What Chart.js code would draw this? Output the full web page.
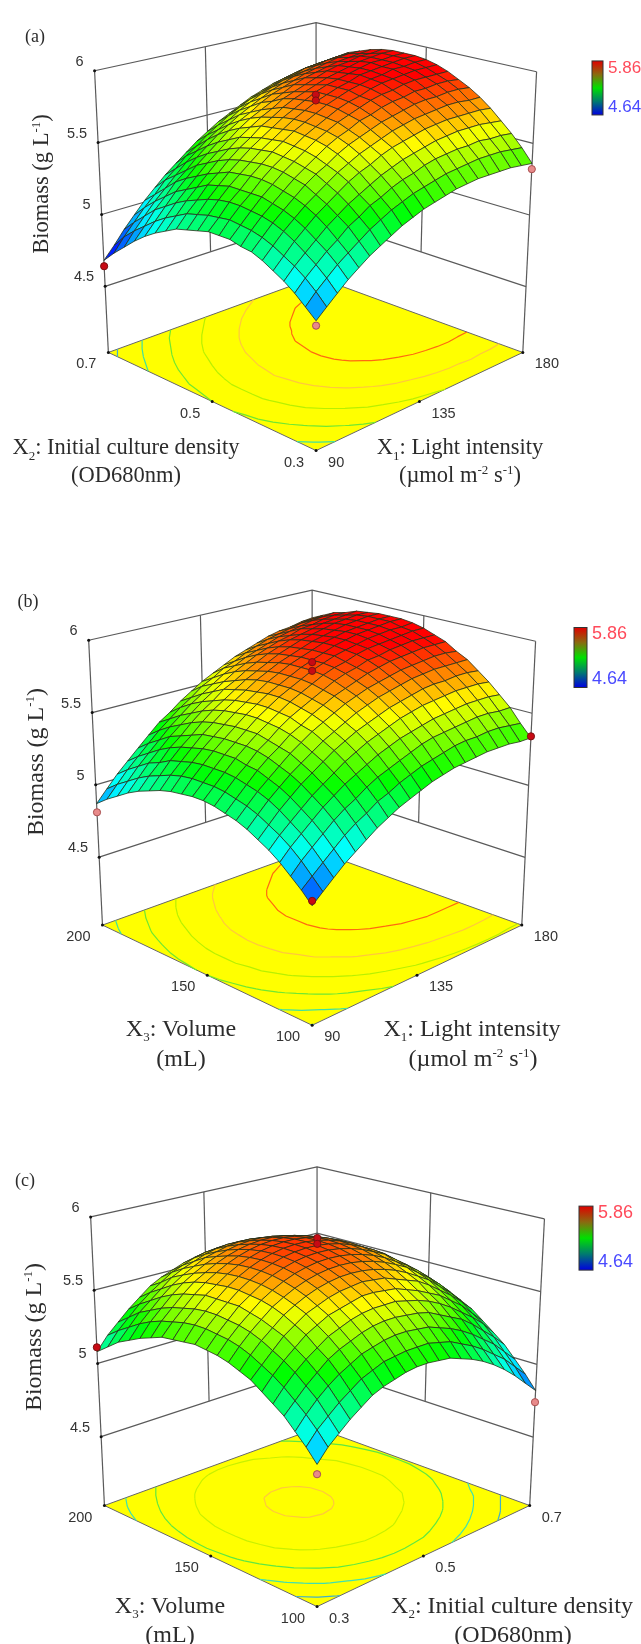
<!DOCTYPE html>
<html>
<head>
<meta charset="utf-8">
<script src="https://cdn.jsdelivr.net/npm/chart.js@4/dist/chart.umd.js"></script>
<style>
  html, body { margin: 0; background: #fff; }
  #page { position: relative; width: 641px; height: 1644px; overflow: hidden; filter: blur(0.45px); }
  canvas { position: absolute; left: 0; }
  .lab { position: absolute; transform: translate(-50%, -50%); font-family: "Liberation Serif", serif; font-size: 22.5px; color: #2c2c2c; white-space: nowrap; }
  .big { font-size: 24px; }
  .lab sub, .lab sup { font-size: 13px; line-height: 0; }
  .rot { transform: translate(-50%, -50%) rotate(-90deg); }
  .tag { font-size: 18px; }
</style>
</head>
<body>
<div id="page">
  <canvas id="panelA" width="641" height="540" style="top:0"></canvas>
  <canvas id="panelB" width="641" height="560" style="top:540px"></canvas>
  <canvas id="panelC" width="641" height="544" style="top:1100px"></canvas>

  <div class="lab tag" style="left:35px;top:36px">(a)</div>
  <div class="lab rot" style="left:41px;top:184px">Biomass (g L<sup>-1</sup>)</div>
  <div class="lab" style="left:126px;top:447px">X<sub>2</sub>: Initial culture density</div>
  <div class="lab" style="left:126px;top:475px">(OD680nm)</div>
  <div class="lab" style="left:460px;top:447px">X<sub>1</sub>: Light intensity</div>
  <div class="lab" style="left:460px;top:475px">(µmol m<sup>-2</sup> s<sup>-1</sup>)</div>

  <div class="lab tag" style="left:28px;top:601px">(b)</div>
  <div class="lab big rot" style="left:35px;top:762px">Biomass (g L<sup>-1</sup>)</div>
  <div class="lab big" style="left:181px;top:1028px">X<sub>3</sub>: Volume</div>
  <div class="lab big" style="left:181px;top:1058px">(mL)</div>
  <div class="lab big" style="left:472px;top:1028px">X<sub>1</sub>: Light intensity</div>
  <div class="lab big" style="left:473px;top:1058px">(µmol m<sup>-2</sup> s<sup>-1</sup>)</div>

  <div class="lab tag" style="left:25px;top:1180px">(c)</div>
  <div class="lab big rot" style="left:33px;top:1337px">Biomass (g L<sup>-1</sup>)</div>
  <div class="lab big" style="left:170px;top:1605px">X<sub>3</sub>: Volume</div>
  <div class="lab big" style="left:170px;top:1634px">(mL)</div>
  <div class="lab big" style="left:512px;top:1605px">X<sub>2</sub>: Initial culture density</div>
  <div class="lab big" style="left:513px;top:1634px">(OD680nm)</div>
</div>

<script>
// tick labels
const zTicks = [4.5, 5, 5.5, 6];
const x1Ticks = ["90", "135", "180"];
const x2Ticks = ["0.3", "0.5", "0.7"];
const x3Ticks = ["100", "150", "200"];

// biomass, rows X2 0.3 -> 0.7, columns X1 90 -> 180
const biomassA = [
  [4.84,4.90,4.96,5.02,5.07,5.12,5.16,5.20,5.24,5.27,5.30,5.32,5.34,5.36,5.37,5.38,5.38,5.38,5.38,5.37,5.36],
  [4.90,4.97,5.03,5.09,5.14,5.19,5.24,5.28,5.32,5.35,5.38,5.40,5.42,5.44,5.45,5.46,5.47,5.47,5.47,5.46,5.45],
  [4.96,5.03,5.09,5.15,5.20,5.26,5.30,5.35,5.38,5.42,5.45,5.47,5.50,5.52,5.53,5.54,5.54,5.55,5.54,5.54,5.53],
  [5.01,5.08,5.14,5.20,5.26,5.31,5.36,5.40,5.44,5.48,5.51,5.54,5.56,5.58,5.60,5.61,5.62,5.62,5.62,5.61,5.60],
  [5.05,5.12,5.19,5.25,5.31,5.36,5.41,5.46,5.50,5.53,5.57,5.60,5.62,5.64,5.66,5.67,5.68,5.68,5.68,5.68,5.67],
  [5.09,5.16,5.23,5.29,5.35,5.40,5.45,5.50,5.54,5.58,5.61,5.64,5.67,5.69,5.71,5.72,5.73,5.74,5.74,5.73,5.73],
  [5.12,5.19,5.26,5.32,5.38,5.44,5.49,5.53,5.58,5.62,5.65,5.68,5.71,5.73,5.75,5.77,5.78,5.78,5.79,5.79,5.78],
  [5.13,5.21,5.28,5.34,5.40,5.46,5.51,5.56,5.61,5.65,5.68,5.72,5.74,5.77,5.79,5.80,5.82,5.82,5.83,5.83,5.82],
  [5.15,5.22,5.29,5.36,5.42,5.48,5.53,5.58,5.63,5.67,5.71,5.74,5.77,5.80,5.82,5.83,5.85,5.86,5.86,5.86,5.86],
  [5.15,5.23,5.30,5.36,5.43,5.49,5.54,5.59,5.64,5.68,5.72,5.76,5.79,5.81,5.84,5.86,5.87,5.88,5.89,5.89,5.89],
  [5.15,5.22,5.30,5.36,5.43,5.49,5.55,5.60,5.65,5.69,5.73,5.77,5.80,5.83,5.85,5.87,5.88,5.90,5.90,5.91,5.91],
  [5.13,5.21,5.29,5.36,5.42,5.48,5.54,5.59,5.64,5.69,5.73,5.77,5.80,5.83,5.85,5.88,5.89,5.90,5.91,5.92,5.92],
  [5.11,5.19,5.27,5.34,5.41,5.47,5.53,5.58,5.63,5.68,5.72,5.76,5.80,5.83,5.85,5.87,5.89,5.91,5.91,5.92,5.92],
  [5.09,5.17,5.24,5.32,5.38,5.45,5.51,5.56,5.62,5.66,5.71,5.75,5.78,5.81,5.84,5.86,5.88,5.90,5.91,5.92,5.92],
  [5.05,5.13,5.21,5.28,5.35,5.42,5.48,5.54,5.59,5.64,5.68,5.73,5.76,5.79,5.82,5.85,5.87,5.88,5.90,5.90,5.91],
  [5.01,5.09,5.17,5.24,5.31,5.38,5.44,5.50,5.56,5.61,5.65,5.69,5.73,5.77,5.80,5.82,5.84,5.86,5.87,5.88,5.89],
  [4.96,5.04,5.12,5.20,5.27,5.34,5.40,5.46,5.52,5.57,5.61,5.66,5.70,5.73,5.76,5.79,5.81,5.83,5.85,5.86,5.86],
  [4.90,4.98,5.07,5.14,5.22,5.28,5.35,5.41,5.47,5.52,5.57,5.61,5.65,5.69,5.72,5.75,5.77,5.79,5.81,5.82,5.83],
  [4.83,4.92,5.00,5.08,5.15,5.22,5.29,5.35,5.41,5.46,5.51,5.56,5.60,5.64,5.67,5.70,5.72,5.75,5.76,5.77,5.78],
  [4.76,4.85,4.93,5.01,5.08,5.16,5.22,5.29,5.34,5.40,5.45,5.50,5.54,5.58,5.61,5.64,5.67,5.69,5.71,5.72,5.73],
  [4.68,4.76,4.85,4.93,5.01,5.08,5.15,5.21,5.27,5.33,5.38,5.43,5.47,5.51,5.55,5.58,5.61,5.63,5.65,5.66,5.68]
];

// rows X3 100 -> 200, columns X1 90 -> 180
const biomassB = [
  [4.77,4.83,4.89,4.95,5.00,5.05,5.10,5.14,5.18,5.21,5.24,5.27,5.29,5.31,5.32,5.33,5.34,5.34,5.34,5.33,5.33],
  [4.84,4.90,4.96,5.02,5.08,5.13,5.17,5.22,5.25,5.29,5.32,5.35,5.37,5.39,5.41,5.42,5.42,5.43,5.43,5.42,5.41],
  [4.90,4.97,5.03,5.09,5.15,5.20,5.24,5.29,5.33,5.36,5.39,5.42,5.45,5.47,5.48,5.49,5.50,5.51,5.51,5.50,5.50],
  [4.96,5.03,5.09,5.15,5.21,5.26,5.31,5.35,5.39,5.43,5.46,5.49,5.51,5.53,5.55,5.56,5.57,5.58,5.58,5.58,5.57],
  [5.01,5.08,5.14,5.20,5.26,5.31,5.36,5.41,5.45,5.49,5.52,5.55,5.58,5.60,5.62,5.63,5.64,5.65,5.65,5.65,5.64],
  [5.05,5.12,5.19,5.25,5.31,5.36,5.41,5.46,5.50,5.54,5.57,5.60,5.63,5.65,5.67,5.69,5.70,5.70,5.71,5.71,5.70],
  [5.09,5.16,5.23,5.29,5.35,5.40,5.45,5.50,5.54,5.58,5.62,5.65,5.68,5.70,5.72,5.74,5.75,5.76,5.76,5.76,5.76],
  [5.12,5.19,5.26,5.32,5.38,5.44,5.49,5.54,5.58,5.62,5.66,5.69,5.72,5.74,5.76,5.78,5.79,5.80,5.81,5.81,5.80],
  [5.14,5.21,5.28,5.35,5.41,5.46,5.52,5.56,5.61,5.65,5.69,5.72,5.75,5.78,5.80,5.82,5.83,5.84,5.85,5.85,5.85],
  [5.16,5.23,5.30,5.36,5.43,5.48,5.54,5.59,5.63,5.67,5.71,5.75,5.78,5.80,5.83,5.84,5.86,5.87,5.88,5.88,5.88],
  [5.17,5.24,5.31,5.38,5.44,5.50,5.55,5.60,5.65,5.69,5.73,5.77,5.80,5.82,5.85,5.87,5.88,5.89,5.90,5.91,5.91],
  [5.17,5.24,5.31,5.38,5.44,5.50,5.56,5.61,5.66,5.70,5.74,5.78,5.81,5.84,5.86,5.88,5.90,5.91,5.92,5.92,5.93],
  [5.16,5.24,5.31,5.38,5.44,5.50,5.56,5.61,5.66,5.70,5.74,5.78,5.81,5.84,5.87,5.89,5.91,5.92,5.93,5.94,5.94],
  [5.15,5.23,5.30,5.37,5.43,5.49,5.55,5.60,5.65,5.70,5.74,5.78,5.81,5.84,5.87,5.89,5.91,5.92,5.93,5.94,5.94],
  [5.13,5.21,5.28,5.35,5.42,5.48,5.54,5.59,5.64,5.69,5.73,5.77,5.80,5.83,5.86,5.88,5.90,5.92,5.93,5.94,5.94],
  [5.10,5.18,5.26,5.33,5.39,5.46,5.52,5.57,5.62,5.67,5.71,5.75,5.79,5.82,5.85,5.87,5.89,5.91,5.92,5.93,5.93],
  [5.07,5.15,5.22,5.30,5.36,5.43,5.49,5.54,5.60,5.64,5.69,5.73,5.77,5.80,5.83,5.85,5.87,5.89,5.90,5.91,5.92],
  [5.03,5.11,5.19,5.26,5.33,5.39,5.45,5.51,5.56,5.61,5.66,5.70,5.74,5.77,5.80,5.82,5.85,5.86,5.88,5.89,5.89],
  [4.98,5.06,5.14,5.21,5.28,5.35,5.41,5.47,5.52,5.57,5.62,5.66,5.70,5.73,5.76,5.79,5.81,5.83,5.85,5.86,5.87],
  [4.93,5.01,5.09,5.16,5.23,5.30,5.36,5.42,5.47,5.53,5.57,5.62,5.65,5.69,5.72,5.75,5.77,5.79,5.81,5.82,5.83],
  [4.87,4.95,5.03,5.10,5.17,5.24,5.31,5.36,5.42,5.47,5.52,5.56,5.60,5.64,5.67,5.70,5.73,5.75,5.76,5.78,5.79]
];

// rows X3 100 -> 200, columns X2 0.3 -> 0.7
const biomassC = [
  [4.90,4.98,5.04,5.10,5.15,5.20,5.23,5.25,5.27,5.28,5.28,5.27,5.26,5.23,5.20,5.16,5.11,5.05,4.98,4.90,4.82],
  [4.98,5.06,5.12,5.18,5.23,5.28,5.31,5.34,5.35,5.36,5.36,5.36,5.34,5.32,5.28,5.24,5.19,5.13,5.07,4.99,4.91],
  [5.05,5.13,5.20,5.26,5.31,5.35,5.39,5.41,5.43,5.44,5.44,5.43,5.42,5.39,5.36,5.32,5.27,5.21,5.15,5.07,4.99],
  [5.12,5.19,5.26,5.32,5.38,5.42,5.45,5.48,5.50,5.51,5.51,5.50,5.49,5.47,5.43,5.39,5.35,5.29,5.22,5.15,5.07],
  [5.17,5.25,5.32,5.38,5.43,5.48,5.51,5.54,5.56,5.57,5.57,5.57,5.55,5.53,5.50,5.46,5.41,5.35,5.29,5.22,5.13],
  [5.22,5.30,5.37,5.43,5.49,5.53,5.57,5.59,5.61,5.63,5.63,5.62,5.61,5.58,5.55,5.51,5.47,5.41,5.35,5.27,5.19],
  [5.27,5.34,5.41,5.48,5.53,5.58,5.61,5.64,5.66,5.67,5.68,5.67,5.66,5.63,5.60,5.57,5.52,5.46,5.40,5.33,5.25],
  [5.30,5.38,5.45,5.51,5.57,5.613,5.65,5.679,5.699,5.712,5.715,5.71,5.697,5.675,5.646,5.607,5.56,5.51,5.44,5.37,5.29],
  [5.33,5.41,5.48,5.54,5.60,5.642,5.68,5.709,5.73,5.743,5.747,5.743,5.73,5.709,5.68,5.642,5.60,5.54,5.48,5.41,5.33],
  [5.35,5.43,5.50,5.56,5.62,5.665,5.703,5.733,5.754,5.768,5.772,5.768,5.756,5.735,5.707,5.669,5.62,5.57,5.51,5.44,5.36],
  [5.36,5.44,5.51,5.58,5.63,5.68,5.719,5.749,5.771,5.785,5.79,5.787,5.775,5.755,5.727,5.69,5.65,5.59,5.53,5.46,5.38],
  [5.37,5.45,5.52,5.58,5.64,5.687,5.727,5.757,5.78,5.794,5.80,5.798,5.786,5.767,5.739,5.703,5.66,5.61,5.54,5.47,5.40],
  [5.36,5.45,5.52,5.58,5.64,5.688,5.728,5.759,5.782,5.797,5.803,5.801,5.79,5.771,5.744,5.708,5.66,5.61,5.55,5.48,5.40],
  [5.35,5.44,5.51,5.58,5.63,5.681,5.722,5.753,5.777,5.792,5.799,5.798,5.787,5.769,5.742,5.707,5.66,5.61,5.55,5.48,5.40],
  [5.34,5.42,5.49,5.56,5.62,5.667,5.708,5.74,5.764,5.78,5.787,5.786,5.776,5.758,5.732,5.697,5.65,5.60,5.54,5.47,5.40],
  [5.31,5.40,5.47,5.54,5.60,5.644,5.686,5.718,5.743,5.759,5.767,5.767,5.757,5.74,5.714,5.68,5.64,5.59,5.53,5.46,5.38],
  [5.28,5.37,5.44,5.51,5.57,5.616,5.658,5.691,5.716,5.733,5.741,5.741,5.732,5.715,5.69,5.656,5.61,5.56,5.50,5.44,5.36],
  [5.24,5.33,5.40,5.47,5.53,5.58,5.62,5.66,5.68,5.70,5.71,5.71,5.70,5.68,5.66,5.63,5.58,5.53,5.47,5.41,5.33],
  [5.20,5.28,5.36,5.42,5.48,5.54,5.58,5.61,5.64,5.66,5.67,5.67,5.66,5.64,5.62,5.59,5.54,5.49,5.44,5.37,5.30],
  [5.14,5.23,5.30,5.37,5.43,5.48,5.53,5.56,5.59,5.61,5.62,5.62,5.61,5.60,5.57,5.54,5.50,5.45,5.39,5.33,5.25],
  [5.08,5.17,5.24,5.31,5.37,5.43,5.47,5.50,5.53,5.55,5.56,5.56,5.56,5.54,5.52,5.49,5.45,5.40,5.34,5.27,5.20]
];

// contour levels on the floor
const levelsA = [5.75, 5.55, 5.35, 5.15, 4.95, 4.75];
const levelColorsA = ["#ff6a10", "#ffc83c", "#b8f000", "#70e830", "#40e0a0", "#40b0d0"];
const levelsB = [5.76, 5.55, 5.36, 5.17, 4.97, 4.78];
const levelColorsB = ["#ff6a10", "#ffc83c", "#b8f000", "#70e830", "#40e0a0", "#40b0d0"];
const levelsC = [5.78, 5.6, 5.42, 5.24, 5.05];
const levelColorsC = ["#ffc83c", "#c8f000", "#60e840", "#40e0b0", "#40b0c8"];

// design points [column -1..1, row -1..1, biomass, above surface?]
const pointsA = [[-1, 1, 4.64, 1], [-1, -1, 4.81, 0], [1, -1, 5.32, 0], [0, 0, 5.86, 1], [0, 0, 5.82, 1]];
const pointsB = [[-1, 1, 4.81, 0], [-1, -1, 4.80, 1], [1, -1, 5.34, 1], [0, 0, 5.88, 1], [0, 0, 5.82, 1]];
const pointsC = [[-1, 1, 5.11, 1], [-1, -1, 4.84, 0], [1, -1, 4.74, 0], [0, 0, 5.89, 1], [0, 0, 5.85, 1]];

// box corners on the page
const frameA = {
  floor: { front: [316, 454], right: [526, 354], left: [105, 354], back: [316, 277] },
  top: { front: [316, 130], right: [540, 68], left: [91, 67], back: [316, 18] },
  zFloor: 4.04
};
const frameB = {
  floor: { front: [312, 1029], right: [525, 927], left: [99, 927], back: [312, 850] },
  top: { front: [312, 705], right: [539, 638], left: [85, 637], back: [312, 586] },
  zFloor: 4.03
};
const frameC = {
  floor: { front: [317, 1611], right: [533, 1508], left: [101, 1508], back: [317, 1429] },
  top: { front: [317, 1283], right: [548, 1216], left: [87, 1214], back: [317, 1163] },
  zFloor: 4.03
};

const colorMax = 5.86, colorMin = 4.64;

function surfaceColor(z) {
  const t = Math.min(1, Math.max(0, (z - colorMin) / (colorMax - colorMin))) * 4;
  const k = t - Math.floor(t);
  let r = 0, g = 0, b = 0;
  if (t < 1) { g = k; b = 1; }
  else if (t < 2) { g = 1; b = 1 - k; }
  else if (t < 3) { r = k; g = 1; }
  else { r = 1; g = 1 - k; }
  if (t >= 4) { r = 1; g = 0; b = 0; }
  return "rgb(" + Math.round(r * 255) + "," + Math.round(g * 255) + "," + Math.round(b * 255) + ")";
}

function makeProjector(frame) {
  const mix = (c, al, be, n) =>
    c.front[n] * (1 - al) * (1 - be) + c.right[n] * al * (1 - be) + c.left[n] * (1 - al) * be + c.back[n] * al * be;
  return (u, v, z) => {
    const al = (u + 1) / 2, be = (v + 1) / 2;
    const t = (z - frame.zFloor) / (6 - frame.zFloor);
    return {
      x: mix(frame.floor, al, be, 0) + (mix(frame.top, al, be, 0) - mix(frame.floor, al, be, 0)) * t,
      y: mix(frame.floor, al, be, 1) + (mix(frame.top, al, be, 1) - mix(frame.floor, al, be, 1)) * t
    };
  };
}

// ==============================
//  바닥, 곡면, 글자를 그리는 플러그인
// ==============================
const surfacePlugin = {
  id: "surfacePlugin",

  beforeDatasetsDraw(chart, args, opts) {
    const { ctx, scales: { x, y } } = chart;
    const p = opts.project, z0 = opts.frame.zFloor;
    const px = (u, v) => { const q = p(u, v, z0); return [x.getPixelForValue(q.x), y.getPixelForValue(q.y)]; };

    // floor
    ctx.save();
    ctx.beginPath();
    [[-1, -1], [1, -1], [1, 1], [-1, 1]].forEach(c => ctx.lineTo(...px(c[0], c[1])));
    ctx.closePath();
    ctx.fillStyle = "#ffff00";
    ctx.fill();
    ctx.strokeStyle = "#666";
    ctx.lineWidth = 1;
    ctx.stroke();

    // contours, one segment per grid cell
    const g = opts.grid, n = g.length - 1, step = 2 / n;
    opts.levels.forEach((lv, li) => {
      ctx.beginPath();
      for (let j = 0; j < n; j++) {
        for (let i = 0; i < n; i++) {
          const c = [[i, j], [i + 1, j], [i + 1, j + 1], [i, j + 1]];
          const hits = [];
          for (let k = 0; k < 4; k++) {
            const A = c[k], B = c[(k + 1) % 4];
            const za = g[A[1]][A[0]], zb = g[B[1]][B[0]];
            if ((za < lv) !== (zb < lv)) {
              const f = (lv - za) / (zb - za);
              hits.push(px(-1 + (A[0] + (B[0] - A[0]) * f) * step, -1 + (A[1] + (B[1] - A[1]) * f) * step));
            }
          }
          if (hits.length >= 2) { ctx.moveTo(...hits[0]); ctx.lineTo(...hits[1]); }
          if (hits.length === 4) { ctx.moveTo(...hits[2]); ctx.lineTo(...hits[3]); }
        }
      }
      ctx.strokeStyle = opts.levelColors[li];
      ctx.lineWidth = 1.2;
      ctx.stroke();
    });
    ctx.restore();
  },

  afterDatasetDraw(chart, args, opts) {
    if (chart.data.datasets[args.index].label !== "surface") return;
    const { ctx } = chart;
    const pts = args.meta.data, g = opts.grid, n = g.length - 1, w = n + 1;
    ctx.save();
    ctx.lineWidth = 0.8;
    ctx.lineJoin = "round";
    ctx.strokeStyle = "#26301a";
    // back corner first so the front cells cover it
    for (let j = n - 1; j >= 0; j--) {
      for (let i = n - 1; i >= 0; i--) {
        const a = pts[j * w + i], b = pts[j * w + i + 1], c = pts[(j + 1) * w + i + 1], d = pts[(j + 1) * w + i];
        ctx.beginPath();
        ctx.moveTo(a.x, a.y); ctx.lineTo(b.x, b.y); ctx.lineTo(c.x, c.y); ctx.lineTo(d.x, d.y);
        ctx.closePath();
        // cell takes the colour of its lowest corner
        ctx.fillStyle = surfaceColor(Math.min(g[j][i], g[j][i + 1], g[j + 1][i + 1], g[j + 1][i]));
        ctx.fill();
        ctx.stroke();
      }
    }
    ctx.restore();
  },

  afterDraw(chart, args, opts) {
    const { ctx, scales: { x, y } } = chart;
    const p = opts.project, z0 = opts.frame.zFloor;
    const at = q => [x.getPixelForValue(q.x), y.getPixelForValue(q.y)];
    ctx.save();
    ctx.font = '14.5px "Liberation Sans", sans-serif';
    ctx.fillStyle = "#333";
    ctx.textBaseline = "middle";

    // z ticks on the left wall
    ctx.textAlign = "right";
    zTicks.forEach(z => {
      const q = at(p(-1, 1, z));
      ctx.fillText(String(z), q[0] - 11, q[1] - 9);
    });
    // floor ticks
    opts.leftTicks.forEach((t, i) => {
      const q = at(p(-1, -1 + i, z0));
      ctx.fillText(t, q[0] - 12, q[1] + 12);
    });
    ctx.textAlign = "left";
    opts.rightTicks.forEach((t, i) => {
      const q = at(p(-1 + i, -1, z0));
      ctx.fillText(t, q[0] + 12, q[1] + 12);
    });

    // colour bar
    const b = opts.bar;
    const grad = ctx.createLinearGradient(0, b.top, 0, b.bottom);
    grad.addColorStop(0, "#e00000");
    grad.addColorStop(0.25, "#8a6a10");
    grad.addColorStop(0.5, "#00e000");
    grad.addColorStop(0.75, "#007a70");
    grad.addColorStop(1, "#0000e0");
    const oy = y.getPixelForValue(b.top) - b.top;
    ctx.fillStyle = grad;
    ctx.translate(0, oy);
    ctx.fillRect(b.x, b.top, b.w, b.bottom - b.top);
    ctx.strokeStyle = "#333";
    ctx.lineWidth = 1;
    ctx.strokeRect(b.x, b.top, b.w, b.bottom - b.top);
    ctx.font = b.font + 'px "Liberation Sans", sans-serif';
    ctx.fillStyle = "#ff4a5a";
    ctx.fillText(colorMax.toFixed(2), b.x + b.w + 5, b.top + 7);
    ctx.fillStyle = "#4a4aff";
    ctx.fillText(colorMin.toFixed(2), b.x + b.w + 5, b.bottom - 8);
    ctx.restore();
  }
};

function line(points) {
  return {
    type: "scatter", data: points, showLine: true, pointRadius: 0,
    borderColor: "#5a5a5a", borderWidth: 1.2, tension: 0
  };
}

function drawPanel(cfg) {
  const project = makeProjector(cfg.frame);
  const n = cfg.grid.length - 1, z0 = cfg.frame.zFloor;

  // projected grid vertices
  const vertices = [];
  cfg.grid.forEach((row, j) => row.forEach((z, i) => vertices.push(project(-1 + 2 * i / n, -1 + 2 * j / n, z))));

  const walls = zTicks.map(z => line([project(-1, 1, z), project(1, 1, z), project(1, -1, z)]));
  walls.push(line([project(-1, 1, z0), project(-1, 1, 6)]));
  walls.push(line([project(0, 1, 4.5), project(0, 1, 6)]));
  walls.push(line([project(1, 1, 4.5), project(1, 1, 6)]));
  walls.push(line([project(1, 0, 4.5), project(1, 0, 6)]));
  walls.push(line([project(1, -1, z0), project(1, -1, 6)]));

  const ticks = zTicks.map(z => project(-1, 1, z))
    .concat([-1, 0, 1].map(v => project(-1, v, z0)))
    .concat([0, 1].map(u => project(u, -1, z0)));

  new Chart(document.getElementById(cfg.id), {
    type: "scatter",
    data: {
      datasets: [
        {
          label: "design points", data: cfg.points.map(d => project(d[0], d[1], d[2])),
          pointRadius: 3.6, pointBorderWidth: 1,
          pointBackgroundColor: cfg.points.map(d => d[3] ? "#c80a14" : "#e88a8a"),
          pointBorderColor: cfg.points.map(d => d[3] ? "#7a1010" : "#a85050")
        },
        { label: "surface", data: vertices, pointRadius: 0, showLine: false },
        { label: "ticks", data: ticks, pointRadius: 1.5, pointBackgroundColor: "#111", pointBorderWidth: 0 },
        ...walls
      ]
    },
    options: {
      responsive: false,
      animation: false,
      events: [],
      layout: { padding: 0 },
      scales: {
        x: { type: "linear", display: false, min: 0, max: 641 },
        y: { type: "linear", display: false, min: cfg.top, max: cfg.bottom, reverse: true }
      },
      plugins: {
        legend: { display: false },
        tooltip: { enabled: false },
        surfacePlugin: {
          project, frame: cfg.frame, grid: cfg.grid, levels: cfg.levels, levelColors: cfg.levelColors,
          leftTicks: cfg.leftTicks, rightTicks: cfg.rightTicks, bar: cfg.bar
        }
      }
    },
    plugins: [surfacePlugin]
  });
}

drawPanel({
  id: "panelA", top: 0, bottom: 540, frame: frameA, grid: biomassA,
  levels: levelsA, levelColors: levelColorsA, points: pointsA,
  leftTicks: x2Ticks, rightTicks: x1Ticks,
  bar: { x: 592, w: 11, top: 57, bottom: 111, font: 17 }
});
drawPanel({
  id: "panelB", top: 540, bottom: 1100, frame: frameB, grid: biomassB,
  levels: levelsB, levelColors: levelColorsB, points: pointsB,
  leftTicks: x3Ticks, rightTicks: x1Ticks,
  bar: { x: 574, w: 13, top: 624, bottom: 684, font: 18 }
});
drawPanel({
  id: "panelC", top: 1100, bottom: 1644, frame: frameC, grid: biomassC,
  levels: levelsC, levelColors: levelColorsC, points: pointsC,
  leftTicks: x3Ticks, rightTicks: x2Ticks,
  bar: { x: 579, w: 14, top: 1203, bottom: 1267, font: 18 }
});
</script>
</body>
</html>
